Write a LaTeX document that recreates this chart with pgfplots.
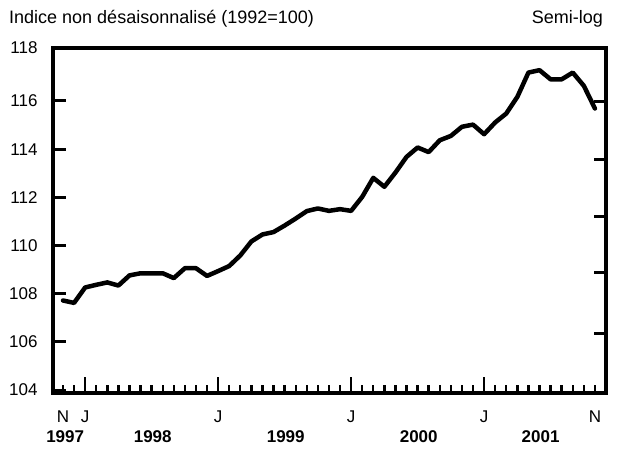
\documentclass[border=0pt]{standalone}
\usepackage{fontspec}
\setmainfont{Liberation Sans}
\usepackage{pgfplots}
\pgfplotsset{compat=1.18}
\pgfplotstableread{
m v
0 107.72
1 107.62
2 108.26
3 108.37
4 108.47
5 108.34
6 108.76
7 108.85
8 108.85
9 108.85
10 108.65
11 109.06
12 109.06
13 108.74
14 108.94
15 109.15
16 109.59
17 110.17
18 110.46
19 110.56
20 110.83
21 111.12
22 111.43
23 111.54
24 111.44
25 111.51
26 111.44
27 112.02
28 112.81
29 112.44
30 113.03
31 113.68
32 114.07
33 113.88
34 114.37
35 114.55
36 114.93
37 115.02
38 114.62
39 115.11
40 115.48
41 116.17
42 117.18
43 117.28
44 116.90
45 116.90
46 117.18
47 116.63
48 115.69
}\datatable
\newcommand\lblfont{\fontsize{17}{17}\selectfont}
\begin{document}
\begin{tikzpicture}[x=1pt,y=1pt]
\useasboundingbox (-53,-59) rectangle (573,393);
\pgfplotsset{mybase/.style={
  at={(0,0)}, anchor=south west,
  scale only axis, width=553pt, height=345pt,
  xmin=-0.9, xmax=49, ymin=103.88, ymax=118.2,
  axis line style={line width=3.4pt},
  tick style={line width=3pt, black},
  tick align=inside,
}}
% right-side ticks (second scale, no labels)
\begin{axis}[mybase,
  xtick=\empty,
  ytick={106.35,108.88,111.19,113.58,115.96},
  ytick pos=right, yticklabels={},
  major tick length=12pt,
]
\end{axis}
% left ticks with labels
\begin{axis}[mybase,
  xtick=\empty,
  ytick={104,106,108,110,112,114,116,118.2},
  yticklabels={104,106,108,110,112,114,116,118},
  ytick pos=left,
  major tick length=12.5pt,
  yticklabel style={font=\lblfont, anchor=east, xshift=-12pt},
]
\end{axis}
% bottom major (J) ticks
\begin{axis}[mybase,
  ytick=\empty,
  xtick={2,14,26,38},
  xtick pos=bottom, xticklabels={},
  major tick length=16pt,
  tick style={line width=2.4pt, black},
]
\end{axis}
\begin{axis}[mybase,
  ytick=\empty,
  xtick={0,...,48},
  xticklabels={N,,J,,,,,,,,,,,,J,,,,,,,,,,,,J,,,,,,,,,,,,J,,,,,,,,,,N},
  xtick pos=bottom,
  major tick length=8pt,
  tick style={line width=2.4pt, black},
  xticklabel style={font=\lblfont, anchor=north, yshift=-14pt},
  clip=false,
]
\addplot[black, line width=4.5pt, line join=round, line cap=round] table[x=m,y=v] {\datatable};
\node[font=\lblfont\bfseries, anchor=base] at (axis cs:0.2,103.88) [yshift=-49pt] {1997};
\node[font=\lblfont\bfseries, anchor=base] at (axis cs:8.1,103.88) [yshift=-49pt] {1998};
\node[font=\lblfont\bfseries, anchor=base] at (axis cs:20.1,103.88) [yshift=-49pt] {1999};
\node[font=\lblfont\bfseries, anchor=base] at (axis cs:32.1,103.88) [yshift=-49pt] {2000};
\node[font=\lblfont\bfseries, anchor=base] at (axis cs:43.1,103.88) [yshift=-49pt] {2001};
\end{axis}
\node[anchor=base west, inner sep=0pt, font=\fontsize{18}{18}\selectfont] at (-44,369) {Indice non désaisonnalisé (1992=100)};
\node[anchor=base east, inner sep=0pt, font=\fontsize{18}{18}\selectfont] at (550,369) {Semi-log};
\end{tikzpicture}
\end{document}
